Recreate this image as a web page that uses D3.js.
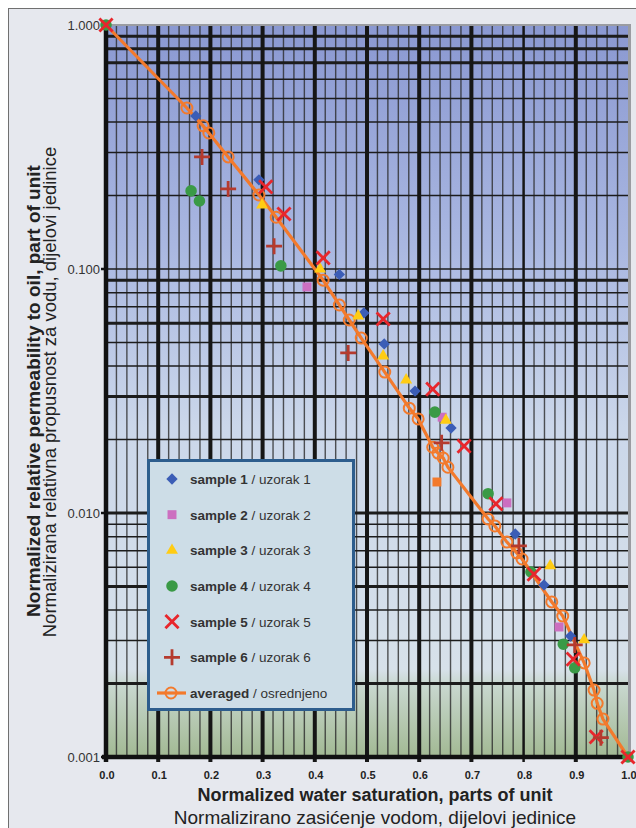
<!DOCTYPE html>
<html>
<head>
<meta charset="utf-8">
<script src="https://cdn.jsdelivr.net/npm/d3@7"></script>
<style>
body { margin: 0; background: #fff; }
svg { display: block; font-family: "Liberation Sans", Arial, sans-serif; }
</style>
</head>
<body>
<div id="chart"></div>
<script>
// Data: [water saturation, relative permeability]
const sample1 = [[0.172, 0.424], [0.293, 0.232], [0.447, 0.095], [0.494, 0.066], [0.533, 0.0493], [0.592, 0.0316], [0.661, 0.0223], [0.784, 0.0082], [0.839, 0.00507], [0.890, 0.00313]];
const sample2 = [[0.385, 0.0844], [0.644, 0.0247], [0.768, 0.0110], [0.868, 0.00341]];
const sample2Odd = [[0.634, 0.0134]]; // drawn orange in the original
const sample3 = [[0.299, 0.183], [0.410, 0.100], [0.483, 0.0642], [0.531, 0.0440], [0.575, 0.0351], [0.651, 0.0240], [0.851, 0.00607], [0.916, 0.00302]];
const sample4 = [[0.0, 1.0], [0.163, 0.209], [0.179, 0.190], [0.335, 0.103], [0.630, 0.0259], [0.732, 0.0120], [0.814, 0.00573], [0.876, 0.0029], [0.898, 0.00232], [1.0, 0.001]];
const sample5 = [[0.0, 1.0], [0.306, 0.217], [0.341, 0.168], [0.416, 0.111], [0.531, 0.0624], [0.626, 0.0322], [0.686, 0.0188], [0.747, 0.0109], [0.820, 0.00562], [0.895, 0.00252], [0.939, 0.00121], [1.0, 0.001]];
const sample6 = [[0.184, 0.288], [0.234, 0.213], [0.322, 0.124], [0.464, 0.0453], [0.643, 0.0194], [0.791, 0.00733], [0.898, 0.00288], [0.948, 0.0012]];
const averaged = [[0.0, 1.0], [0.155, 0.457], [0.186, 0.386], [0.197, 0.361], [0.234, 0.288], [0.293, 0.201], [0.326, 0.163], [0.416, 0.090], [0.447, 0.0712], [0.466, 0.0618], [0.489, 0.0521], [0.534, 0.0378], [0.581, 0.0269], [0.598, 0.0243], [0.626, 0.0186], [0.636, 0.0176], [0.646, 0.0168], [0.655, 0.0154], [0.732, 0.00945], [0.745, 0.00885], [0.768, 0.0076], [0.787, 0.00686], [0.797, 0.00648], [0.854, 0.00432], [0.875, 0.00378], [0.916, 0.00243], [0.935, 0.00188], [0.941, 0.00166], [0.952, 0.00143], [1.0, 0.001]];

const yTickValues = [1, 0.1, 0.01, 0.001];
const yHeavyGrid = [0.9, 0.8, 0.7, 0.09, 0.06, 0.03, 0.01, 0.005, 0.002];

const legendBold = ["sample 1", "sample 2", "sample 3", "sample 4", "sample 5", "sample 6", "averaged"];
const legendNormal = [" / uzorak 1", " / uzorak 2", " / uzorak 3", " / uzorak 4", " / uzorak 5", " / uzorak 6", " / osrednjeno"];

const orange = "#f37a2c";
const series = [
    { data: sample1, type: d3.symbolSquare, size: 64, rotate: 45, fill: "#3b5db6" },
    { data: sample2, type: d3.symbolSquare, size: 80, rotate: 0, fill: "#cc6fc0" },
    { data: sample3, type: d3.symbolTriangle, size: 62, rotate: 0, fill: "#ffcc14" },
    { data: sample4, type: d3.symbolCircle, size: 105, rotate: 0, fill: "#3a9a46" },
    { data: sample5, type: d3.symbolTimes, size: 115, rotate: 0, stroke: "#e8262c" },
    { data: sample6, type: d3.symbolPlus, size: 85, rotate: 0, stroke: "#b53a2e" }
];

const W = 636, H = 828;
const svg = d3.select("#chart").append("svg")
    .attr("width", W)
    .attr("height", H);

// outer panel
svg.append("rect")
    .attr("x", 8.5).attr("y", 8.5)
    .attr("width", W + 10).attr("height", H + 10)
    .attr("fill", "#e6e8ee")
    .attr("stroke", "#707070");

const x = d3.scaleLinear().domain([0, 1]).range([106, 628]);
const y = d3.scaleLog().domain([0.001, 1]).range([757, 25]);

// background gradient
const grad = svg.append("defs").append("linearGradient")
    .attr("id", "bg").attr("x1", 0).attr("y1", 0).attr("x2", 0).attr("y2", 1);
[[0, "#8a98d1"], [0.3, "#a9b7e1"], [0.55, "#cbd7ea"], [0.88, "#d7e1ea"], [0.9, "#c9d8d0"], [1, "#a2b993"]]
    .forEach(s => grad.append("stop").attr("offset", s[0]).attr("stop-color", s[1]));

svg.append("rect")
    .attr("x", x(0)).attr("y", y(1))
    .attr("width", x(1) - x(0)).attr("height", y(0.001) - y(1))
    .attr("fill", "url(#bg)");

// minor vertical grid
svg.append("g").selectAll("line")
    .data(x.ticks(50).filter(d => Math.abs(d * 10 - Math.round(d * 10)) > 1e-6))
    .join("line")
    .attr("x1", d => x(d)).attr("x2", d => x(d))
    .attr("y1", y(1)).attr("y2", y(0.001))
    .attr("stroke", "#2b2b2b").attr("stroke-opacity", 0.8).attr("stroke-width", 1.4);

// horizontal grid
svg.append("g").selectAll("line")
    .data(y.ticks().filter(d => d < 0.99 && d > 0.0011))
    .join("line")
    .attr("x1", x(0)).attr("x2", x(1))
    .attr("y1", d => y(d)).attr("y2", d => y(d))
    .attr("stroke", "#1c1c1c")
    .attr("stroke-width", d => yHeavyGrid.some(v => Math.abs(v - d) / v < 1e-6) ? 3 : 1.5);

// major vertical grid (continues below the axis as ticks)
svg.append("g").selectAll("line")
    .data(x.ticks(10).filter(d => d > 0.05 && d < 0.95))
    .join("line")
    .attr("x1", d => x(d)).attr("x2", d => x(d))
    .attr("y1", y(1)).attr("y2", y(0.001) + 5)
    .attr("stroke", "#161616")
    .attr("stroke-width", d => Math.abs(d - 0.8) < 1e-6 ? 2.5 : 4);

// plot frame
svg.append("line")
    .attr("x1", x(0)).attr("x2", x(1) + 3)
    .attr("y1", y(1)).attr("y2", y(1))
    .attr("stroke", "#9a9ca2").attr("stroke-width", 2);
svg.append("line")
    .attr("x1", x(1) + 1.5).attr("x2", x(1) + 1.5)
    .attr("y1", y(1)).attr("y2", y(0.001))
    .attr("stroke", "#9a9ca2").attr("stroke-width", 3);
svg.append("line")
    .attr("x1", x(0)).attr("x2", x(0))
    .attr("y1", y(1)).attr("y2", y(0.001) + 5)
    .attr("stroke", "#111").attr("stroke-width", 4.5);
svg.append("line")
    .attr("x1", x(0) - 4).attr("x2", x(1))
    .attr("y1", y(0.001)).attr("y2", y(0.001))
    .attr("stroke", "#111").attr("stroke-width", 4.5);

// y tick marks and labels
yTickValues.forEach(v => {
    svg.append("line")
        .attr("x1", x(0) - 5).attr("x2", x(0))
        .attr("y1", y(v)).attr("y2", y(v))
        .attr("stroke", "#111").attr("stroke-width", 2.5);
    svg.append("text")
        .attr("x", x(0) - 6)
        .attr("y", y(v) + 4.5)
        .attr("text-anchor", "end")
        .attr("font-size", "13px")
        .attr("fill", "#333")
        .text(d3.format(".3f")(v));
});

// x tick labels
svg.append("g").selectAll("text")
    .data(x.ticks(10))
    .join("text")
    .attr("x", d => x(d) + 1)
    .attr("y", 779)
    .attr("text-anchor", "middle")
    .attr("font-size", "11px")
    .attr("font-weight", "bold")
    .attr("fill", "#222")
    .text(d3.format(".1f"));

// averaged curve
svg.append("path")
    .datum(averaged)
    .attr("fill", "none")
    .attr("stroke", orange)
    .attr("stroke-width", 3.2)
    .attr("d", d3.line().x(d => x(d[0])).y(d => y(d[1])));

svg.append("g").selectAll("circle")
    .data(averaged.slice(1, -1))
    .join("circle")
    .attr("cx", d => x(d[0])).attr("cy", d => y(d[1]))
    .attr("r", 5.5)
    .attr("fill", "none")
    .attr("stroke", orange).attr("stroke-width", 2);

// samples
function symbolPath(s) {
    return d3.symbol().type(s.type).size(s.size)();
}
series.forEach(s => {
    svg.append("g").selectAll("path")
        .data(s.data)
        .join("path")
        .attr("transform", d => `translate(${x(d[0])},${y(d[1])}) rotate(${s.rotate})`)
        .attr("d", symbolPath(s))
        .attr("fill", s.fill || "none")
        .attr("stroke", s.stroke || "none")
        .attr("stroke-width", s.stroke ? 2.8 : 0);
});
svg.append("g").selectAll("path")
    .data(sample2Odd)
    .join("path")
    .attr("transform", d => `translate(${x(d[0])},${y(d[1])})`)
    .attr("d", d3.symbol().type(d3.symbolSquare).size(80)())
    .attr("fill", orange);

// legend
const lg = svg.append("g");
lg.append("rect")
    .attr("x", 148.5).attr("y", 460.5)
    .attr("width", 205).attr("height", 249)
    .attr("fill", "#cddde7")
    .attr("stroke", "#2d5d8d").attr("stroke-width", 3);

const rowY = d3.scalePoint().domain(d3.range(7)).range([479, 693]);
series.forEach((s, i) => {
    lg.append("path")
        .attr("transform", `translate(172,${rowY(i)}) rotate(${s.rotate})`)
        .attr("d", symbolPath(s))
        .attr("fill", s.fill || "none")
        .attr("stroke", s.stroke || "none")
        .attr("stroke-width", s.stroke ? 2.8 : 0);
});
lg.append("line")
    .attr("x1", 157).attr("x2", 186)
    .attr("y1", rowY(6)).attr("y2", rowY(6))
    .attr("stroke", orange).attr("stroke-width", 3.2);
lg.append("circle")
    .attr("cx", 171).attr("cy", rowY(6)).attr("r", 5.5)
    .attr("fill", "none").attr("stroke", orange).attr("stroke-width", 2);

legendBold.forEach((b, i) => {
    const t = lg.append("text")
        .attr("x", 190)
        .attr("y", rowY(i) + 5)
        .attr("font-size", "13.5px")
        .attr("fill", "#333");
    t.append("tspan").attr("font-weight", "bold").text(b);
    t.append("tspan").text(legendNormal[i]);
});

// axis titles
svg.append("text")
    .attr("x", 375).attr("y", 801)
    .attr("text-anchor", "middle")
    .attr("font-size", "18px").attr("font-weight", "bold").attr("fill", "#222")
    .text("Normalized water saturation, parts of unit");
svg.append("text")
    .attr("x", 375).attr("y", 824)
    .attr("text-anchor", "middle")
    .attr("font-size", "19px").attr("fill", "#222")
    .text("Normalizirano zasićenje vodom, dijelovi jedinice");
svg.append("text")
    .attr("transform", "translate(40,391) rotate(-90)")
    .attr("text-anchor", "middle")
    .attr("font-size", "19px").attr("font-weight", "bold").attr("fill", "#222")
    .text("Normalized relative permeability to oil, part of unit");
svg.append("text")
    .attr("transform", "translate(56,392) rotate(-90)")
    .attr("text-anchor", "middle")
    .attr("font-size", "18.5px").attr("fill", "#222")
    .text("Normalizirana relativna propusnost za vodu, dijelovi jedinice");
</script>
</body>
</html>
